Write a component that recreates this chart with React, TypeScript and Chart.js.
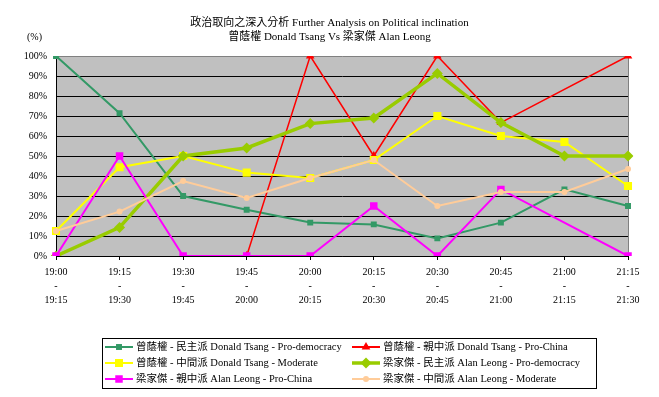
import React, { useEffect, useRef } from 'react';
import { Chart, registerables } from 'chart.js';

Chart.register(...registerables);

// ---- data ----
const startTimes = ['19:00', '19:15', '19:30', '19:45', '20:00', '20:15', '20:30', '20:45', '21:00', '21:15'];
const endTimes = ['19:15', '19:30', '19:45', '20:00', '20:15', '20:30', '20:45', '21:00', '21:15', '21:30'];
const titleLines = [
  '政治取向之深入分析 Further Analysis on Political inclination',
  '曾蔭權 Donald Tsang Vs 梁家傑 Alan Leong',
];
const yUnitLabel = '(%)';
const yTickValues = [0, 10, 20, 30, 40, 50, 60, 70, 80, 90, 100];

const seriesNames = [
  '曾蔭權 - 民主派 Donald Tsang - Pro-democracy',
  '曾蔭權 - 親中派 Donald Tsang - Pro-China',
  '曾蔭權 - 中間派 Donald Tsang - Moderate',
  '梁家傑 - 民主派 Alan Leong - Pro-democracy',
  '梁家傑 - 親中派 Alan Leong - Pro-China',
  '梁家傑 - 中間派 Alan Leong - Moderate',
];
const tsangProDemocracy = [100, 71.4, 30, 23.1, 16.7, 15.8, 8.8, 16.7, 33.3, 25];
const tsangProChina = [null, null, null, 0, 100, 50, 100, 66.7, null, 100];
const tsangModerate = [12.5, 44.4, 50, 41.7, 39, 48, 70, 60, 57, 35];
const leongProDemocracy = [0, 14.3, 50, 54, 66.2, 69, 91.3, 66.7, 50, 50];
const leongProChina = [0, 50, 0, 0, 0, 25, 0, 33.3, null, 0];
const leongModerate = [12.5, 22.2, 37.5, 29, 39, 48, 25, 32, 32, 43.5];

const seriesValues = [tsangProDemocracy, tsangProChina, tsangModerate, leongProDemocracy, leongProChina, leongModerate];

// ---- styles ----
const seriesStyles = [
  { color: '#339966', width: 2, point: 'rect', radius: 4.2 },
  { color: '#FF0000', width: 1.5, point: 'triangle', radius: 5 },
  { color: '#FFFF00', width: 2, point: 'rect', radius: 5.7 },
  { color: '#99CC00', width: 3.5, point: 'rectRot', radius: 5.5 },
  { color: '#FF00FF', width: 2, point: 'rect', radius: 5.3 },
  { color: '#FFCC99', width: 2, point: 'circle', radius: 3 },
];

const FONT = "'Liberation Serif', 'Noto Sans CJK TC', serif";

function drawMarker(ctx: CanvasRenderingContext2D, style: string, x: number, y: number, r: number) {
  ctx.beginPath();
  if (style === 'rect') {
    const s = Math.SQRT1_2 * r;
    ctx.rect(x - s, y - s, 2 * s, 2 * s);
  } else if (style === 'rectRot') {
    ctx.moveTo(x, y - r);
    ctx.lineTo(x + r, y);
    ctx.lineTo(x, y + r);
    ctx.lineTo(x - r, y);
    ctx.closePath();
  } else if (style === 'triangle') {
    ctx.moveTo(x, y - r);
    ctx.lineTo(x + r * 0.866, y + r * 0.5);
    ctx.lineTo(x - r * 0.866, y + r * 0.5);
    ctx.closePath();
  } else {
    ctx.arc(x, y, r, 0, Math.PI * 2);
  }
  ctx.fill();
}

const decorPlugin = {
  id: 'decor',
  beforeDraw(chart: any) {
    const { ctx, chartArea: a } = chart;
    ctx.save();
    ctx.fillStyle = '#FFFFFF';
    ctx.fillRect(0, 0, chart.width, chart.height);
    ctx.fillStyle = '#C0C0C0';
    ctx.fillRect(a.left, a.top, a.right - a.left, a.bottom - a.top);
    ctx.restore();
  },
  beforeDatasetsDraw(chart: any) {
    const { ctx, chartArea: a } = chart;
    ctx.save();
    ctx.strokeStyle = '#808080';
    ctx.lineWidth = 1;
    ctx.beginPath();
    const xr = Math.round(a.right) + 0.5;
    ctx.moveTo(xr, a.top);
    ctx.lineTo(xr, a.bottom);
    ctx.stroke();
    ctx.restore();
  },
  afterDraw(chart: any) {
    const { ctx } = chart;
    ctx.save();
    ctx.fillStyle = '#000';
    ctx.textBaseline = 'middle';
    ctx.textAlign = 'center';
    ctx.font = `11px ${FONT}`;
    ctx.fillText(titleLines[0], 329.5, 23);
    ctx.fillText(titleLines[1], 329.5, 37);
    ctx.font = `10px ${FONT}`;
    ctx.fillText(yUnitLabel, 34.5, 37);

    // legend
    ctx.strokeStyle = '#000';
    ctx.lineWidth = 1;
    ctx.strokeRect(102.5, 338.5, 494, 50);
    const colX = [105, 352];
    ctx.font = `10.5px ${FONT}`;
    ctx.textAlign = 'left';
    seriesNames.forEach((name, i) => {
      const st = seriesStyles[i];
      const x0 = colX[i % 2];
      const y = 347 + Math.floor(i / 2) * 16;
      ctx.strokeStyle = st.color;
      ctx.lineWidth = Math.max(2, st.width);
      ctx.beginPath();
      ctx.moveTo(x0, y);
      ctx.lineTo(x0 + 28, y);
      ctx.stroke();
      ctx.fillStyle = st.color;
      drawMarker(ctx, st.point, x0 + 14, y, st.radius);
      ctx.fillStyle = '#000';
      ctx.fillText(name, x0 + 31, y);
    });
    ctx.restore();
  },
};

export default function App() {
  const ref = useRef<HTMLCanvasElement | null>(null);
  useEffect(() => {
    document.body.style.margin = '0';
    const canvas = ref.current;
    if (!canvas) return;
    const chart = new Chart(canvas, {
      type: 'line',
      data: {
        labels: startTimes,
        datasets: seriesValues.map((vals, i) => ({
          label: seriesNames[i],
          data: vals,
          borderColor: seriesStyles[i].color,
          backgroundColor: seriesStyles[i].color,
          borderWidth: seriesStyles[i].width,
          pointStyle: seriesStyles[i].point as any,
          pointRadius: seriesStyles[i].radius,
          pointBorderWidth: 0,
          pointBackgroundColor: seriesStyles[i].color,
          pointBorderColor: seriesStyles[i].color,
          tension: 0,
          fill: false,
          spanGaps: true,
          order: 6 - i,
        })),
      },
      options: {
        responsive: false,
        animation: false,
        devicePixelRatio: 1,
        layout: { padding: { top: 56, right: 31, bottom: 91, left: 0 } },
        plugins: {
          legend: { display: false },
          title: { display: false },
          tooltip: { enabled: false },
        },
        scales: {
          x: {
            type: 'category',
            offset: false,
            grid: {
              display: true,
              drawOnChartArea: false,
              drawTicks: true,
              tickLength: 4,
              color: '#000',
            },
            border: { display: true, color: '#000', width: 1 },
            ticks: {
              autoSkip: false,
              maxRotation: 0,
              minRotation: 0,
              padding: 5,
              color: '#000',
              font: { family: FONT, size: 10, lineHeight: 1.4 },
              callback: (_v: any, i: number) => [startTimes[i], '-', endTimes[i]],
            },
            afterFit: (scale: any) => {
              scale.height = 50;
            },
          },
          y: {
            min: 0,
            max: 100,
            afterBuildTicks: (scale: any) => {
              scale.ticks = yTickValues.map((v) => ({ value: v }));
            },
            grid: {
              display: true,
              drawOnChartArea: true,
              drawTicks: false,
              color: (c: any) => (c.tick && c.tick.value === 100 ? '#808080' : '#000000'),
              lineWidth: 1,
            },
            border: { display: true, color: '#000', width: 1 },
            ticks: {
              padding: 9,
              color: '#000',
              font: { family: FONT, size: 10 },
              callback: (v: any) => `${v}%`,
            },
            afterFit: (scale: any) => {
              scale.width = 56;
            },
          },
        },
      },
      plugins: [decorPlugin],
    });
    return () => chart.destroy();
  }, []);
  return (
    <div style={{ position: 'absolute', left: 0, top: 0, width: 659, height: 397 }}>
      <canvas ref={ref} width={659} height={397} style={{ display: 'block', width: 659, height: 397 }} />
    </div>
  );
}
